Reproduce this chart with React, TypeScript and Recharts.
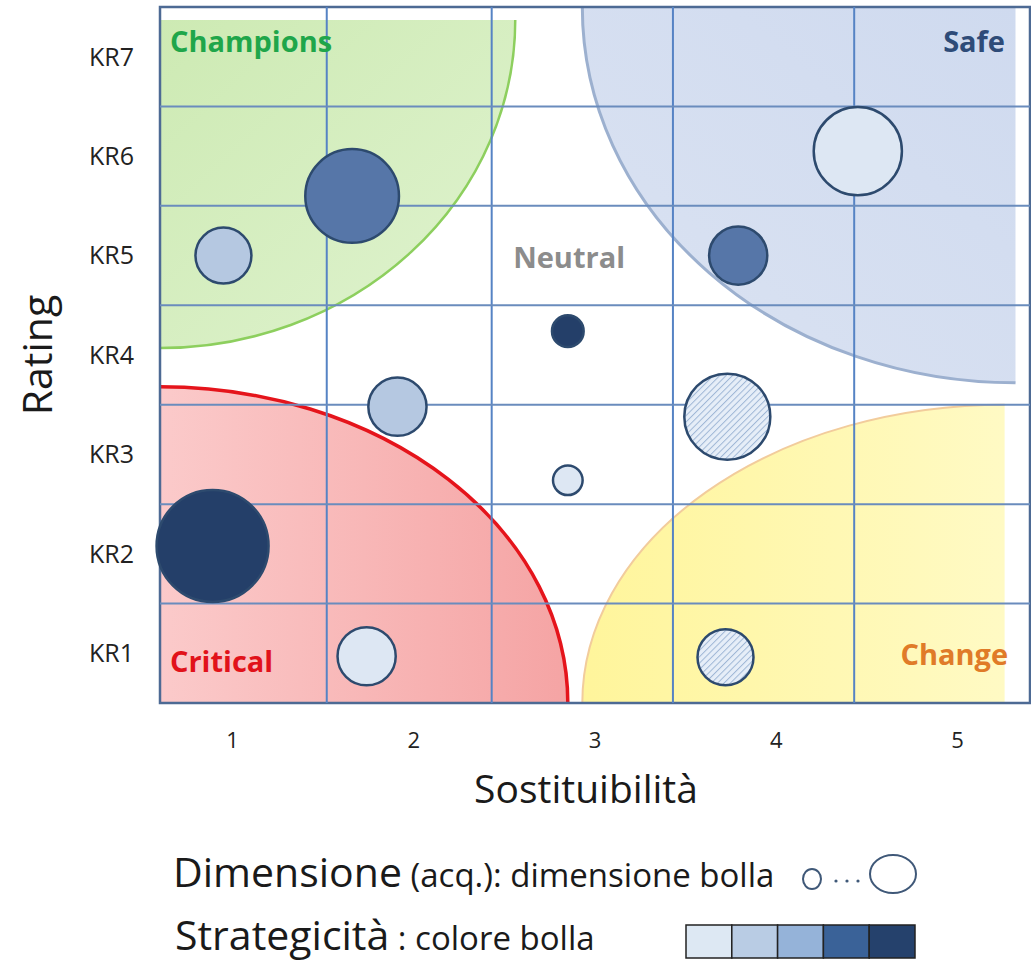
import { ScatterChart, Scatter, XAxis, YAxis, ZAxis, ReferenceArea, ReferenceLine, ReferenceDot, Label } from 'recharts';

const FONT = '"Open Sans", "DejaVu Sans", sans-serif';

// assi
const ratingTicks = [1, 2, 3, 4, 5, 6, 7];
const ratingLabels = ['KR1', 'KR2', 'KR3', 'KR4', 'KR5', 'KR6', 'KR7'];
const sostituibilitaTicks = [1, 2, 3, 4, 5];
const confiniColonne = [1.52, 2.43, 3.43, 4.43];
const confiniRighe = [1.5, 2.5, 3.5, 4.5, 5.5, 6.5];

// fornitori: posizione, dimensione acquisti, strategicità (1..5)
const fornitoriSost = [0.89, 0.95, 1.66, 1.91, 1.74, 2.85, 2.85, 3.79, 4.45, 3.73, 3.72];
const fornitoriRating = [2.08, 5.0, 5.6, 3.48, 0.97, 4.24, 2.74, 5.0, 6.05, 3.38, 0.96];
const fornitoriDimensione = [100, 25, 70, 27, 27, 8, 7, 27, 62, 59, 25];
const fornitoriStrategicita = [5, 2, 4, 2, 1, 5, 1, 4, 1, 1, 1];
const fornitoriTratteggio = [false, false, false, false, false, false, false, false, false, true, true];

const coloriStrategicita = ['#dde7f3', '#b5c8e1', '#93b1d8', '#5676a8', '#243f69'];
const coloriLegenda = ['#dde8f3', '#b9cce4', '#95b3d9', '#3a6298', '#25416c'];

type Corner = 'tl' | 'tr' | 'bl' | 'br';

// quarto di ellisse inscritto nel rettangolo della ReferenceArea
function quarterPaths(x: number, y: number, w: number, h: number, corner: Corner) {
  switch (corner) {
    case 'tl':
      return {
        fill: `M${x},${y} L${x + w},${y} A${w},${h} 0 0 1 ${x},${y + h} Z`,
        arc: `M${x + w},${y} A${w},${h} 0 0 1 ${x},${y + h}`,
      };
    case 'tr':
      return {
        fill: `M${x + w},${y} L${x},${y} A${w},${h} 0 0 0 ${x + w},${y + h} Z`,
        arc: `M${x},${y} A${w},${h} 0 0 0 ${x + w},${y + h}`,
      };
    case 'bl':
      return {
        fill: `M${x},${y + h} L${x},${y} A${w},${h} 0 0 1 ${x + w},${y + h} Z`,
        arc: `M${x},${y} A${w},${h} 0 0 1 ${x + w},${y + h}`,
      };
    default:
      return {
        fill: `M${x + w},${y + h} L${x},${y + h} A${w},${h} 0 0 1 ${x + w},${y} Z`,
        arc: `M${x},${y + h} A${w},${h} 0 0 1 ${x + w},${y}`,
      };
  }
}

function zona(id: string, corner: Corner, from: string, to: string, stroke: string, strokeWidth: number, dir: [number, number, number, number]) {
  return (props: any) => {
    const { x, y, width, height } = props;
    if (width == null || height == null) return <g />;
    const p = quarterPaths(x, y, width, height, corner);
    return (
      <g>
        <defs>
          <linearGradient id={id} x1={dir[0]} y1={dir[1]} x2={dir[2]} y2={dir[3]}>
            <stop offset="0%" stopColor={from} />
            <stop offset="100%" stopColor={to} />
          </linearGradient>
        </defs>
        <path d={p.fill} fill={`url(#${id})`} stroke="none" />
        <path d={p.arc} fill="none" stroke={stroke} strokeWidth={strokeWidth} />
      </g>
    );
  };
}

function Bolla(props: any) {
  const { cx, cy, width, payload } = props;
  const r = width / 2;
  if (payload.tratteggio) {
    const id = `hatch-${Math.round(cx)}-${Math.round(cy)}`;
    return (
      <g>
        <defs>
          <pattern id={id} patternUnits="userSpaceOnUse" width={4.5} height={4.5} patternTransform="rotate(45)">
            <rect width={4.5} height={4.5} fill="#e6eef8" />
            <line x1={0} y1={0} x2={0} y2={4.5} stroke="#9fb7d6" strokeWidth={2} />
          </pattern>
        </defs>
        <circle cx={cx} cy={cy} r={r} fill={`url(#${id})`} stroke="#2d4a6e" strokeWidth={2.5} />
      </g>
    );
  }
  return <circle cx={cx} cy={cy} r={r} fill={coloriStrategicita[payload.livello - 1]} stroke="#2d4a6e" strokeWidth={2.5} />;
}

function etichettaZona(text: string, color: string, anchor: 'start' | 'middle' | 'end') {
  return (props: any) => (
    <text x={props.cx} y={props.cy} fill={color} fontSize={29} fontWeight={700} fontFamily={FONT} textAnchor={anchor}>
      {text}
    </text>
  );
}

const titoloX = (props: any) => {
  const vb = props.viewBox;
  return (
    <text x={vb.x + vb.width / 2 - 9} y={vb.y + 100} textAnchor="middle" fontSize={39} fill="#1a1a1a" fontFamily={FONT}>
      Sostituibilità
    </text>
  );
};

const titoloY = (props: any) => {
  const vb = props.viewBox;
  const cy = vb.y + vb.height / 2;
  return (
    <text x={52} y={cy} transform={`rotate(-90, 52, ${cy})`} textAnchor="middle" fontSize={41} fill="#1a1a1a" fontFamily={FONT}>
      Rating
    </text>
  );
};

export default function App() {
  const bolle = fornitoriSost.map((x, i) => ({
    x,
    y: fornitoriRating[i],
    z: fornitoriDimensione[i],
    livello: fornitoriStrategicita[i],
    tratteggio: fornitoriTratteggio[i],
  }));

  return (
    <div style={{ position: 'absolute', left: 0, top: 0, width: 1031, height: 972, background: '#fff', fontFamily: FONT }}>
      <ScatterChart width={1031} height={830} margin={{ top: 7, right: 1, bottom: 0, left: 0 }}>
        <XAxis
          type="number"
          dataKey="x"
          domain={[0.6, 5.4]}
          ticks={sostituibilitaTicks}
          interval={0}
          tickLine={false}
          axisLine={false}
          tickSize={0}
          tickMargin={29}
          height={127}
          tick={{ fontSize: 22, fill: '#222', fontFamily: FONT }}
          label={<Label content={titoloX} />}
        />
        <YAxis
          type="number"
          dataKey="y"
          domain={[0.5, 7.5]}
          ticks={ratingTicks}
          interval={0}
          tickFormatter={(v: number) => ratingLabels[v - 1]}
          tickLine={false}
          axisLine={false}
          tickSize={0}
          tickMargin={26}
          width={160}
          tick={{ fontSize: 25, fill: '#222', fontFamily: FONT }}
          label={<Label content={titoloY} />}
        />
        <ZAxis type="number" dataKey="z" domain={[0, 100]} range={[0, Math.PI * 56 * 56]} />

        {/* zone della matrice */}
        <ReferenceArea x1={0.6} x2={2.56} y1={4.07} y2={7.37} shape={zona('gChampions', 'tl', '#cdeab3', '#e0f3d0', '#8dcf5e', 2.5, [0, 0, 1, 1])} />
        <ReferenceArea x1={2.93} x2={5.32} y1={3.72} y2={7.5} shape={zona('gSafe', 'tr', '#cfdaef', '#dbe3f2', '#9cb0cf', 3, [1, 0, 0, 1])} />
        <ReferenceArea x1={0.6} x2={2.85} y1={0.5} y2={3.68} shape={zona('gCritical', 'bl', '#fbcaca', '#f5a4a4', '#e5141b', 3.5, [0, 0, 1, 0])} />
        <ReferenceArea x1={2.93} x2={5.26} y1={0.5} y2={3.5} shape={zona('gChange', 'br', '#fff59b', '#fffac4', '#f2cc9c', 2, [0, 0, 1, 0])} />

        {/* griglia */}
        {confiniColonne.map((v) => (
          <ReferenceLine key={`c${v}`} x={v} stroke="#5683c4" strokeWidth={2} />
        ))}
        {confiniRighe.map((v) => (
          <ReferenceLine key={`r${v}`} y={v} stroke="#6a8cbd" strokeWidth={2} />
        ))}
        <ReferenceArea x1={0.6} x2={5.4} y1={0.5} y2={7.5} fill="none" fillOpacity={0} stroke="#4d6a94" strokeWidth={2.5} />

        <Scatter data={bolle} shape={Bolla} isAnimationActive={false} />

        <ReferenceDot x={0.655} y={7.05} r={0} shape={etichettaZona('Champions', '#1fa64a', 'start')} />
        <ReferenceDot x={5.262} y={7.05} r={0} shape={etichettaZona('Safe', '#2e4b78', 'end')} />
        <ReferenceDot x={2.857} y={4.875} r={0} shape={etichettaZona('Neutral', '#8c8c8c', 'middle')} />
        <ReferenceDot x={0.655} y={0.81} r={0} shape={etichettaZona('Critical', '#e1121a', 'start')} />
        <ReferenceDot x={5.279} y={0.88} r={0} shape={etichettaZona('Change', '#e07b28', 'end')} />
      </ScatterChart>

      {/* legenda */}
      <svg width={1031} height={142} style={{ position: 'absolute', left: 0, top: 830 }}>
        <text x={173} y={57} fill="#1a1a1a" fontFamily={FONT}>
          <tspan fontSize={41}>Dimensione</tspan>
          <tspan fontSize={33}> (acq.): dimensione bolla</tspan>
        </text>
        <ellipse cx={812} cy={49} rx={9} ry={10} fill="none" stroke="#3f5878" strokeWidth={2} />
        {[836, 847, 858].map((d) => (
          <circle key={d} cx={d} cy={51} r={1.6} fill="#3f5878" />
        ))}
        <ellipse cx={893} cy={44} rx={23} ry={19} fill="none" stroke="#3f5878" strokeWidth={2} />
        <text x={175} y={120} fill="#1a1a1a" fontFamily={FONT}>
          <tspan fontSize={41}>Strategicità</tspan>
          <tspan fontSize={33}> : colore bolla</tspan>
        </text>
        {coloriLegenda.map((c, i) => (
          <rect key={c} x={686 + i * 45.8} y={95} width={45.8} height={33} fill={c} stroke="#222" strokeWidth={1.5} />
        ))}
      </svg>
    </div>
  );
}
